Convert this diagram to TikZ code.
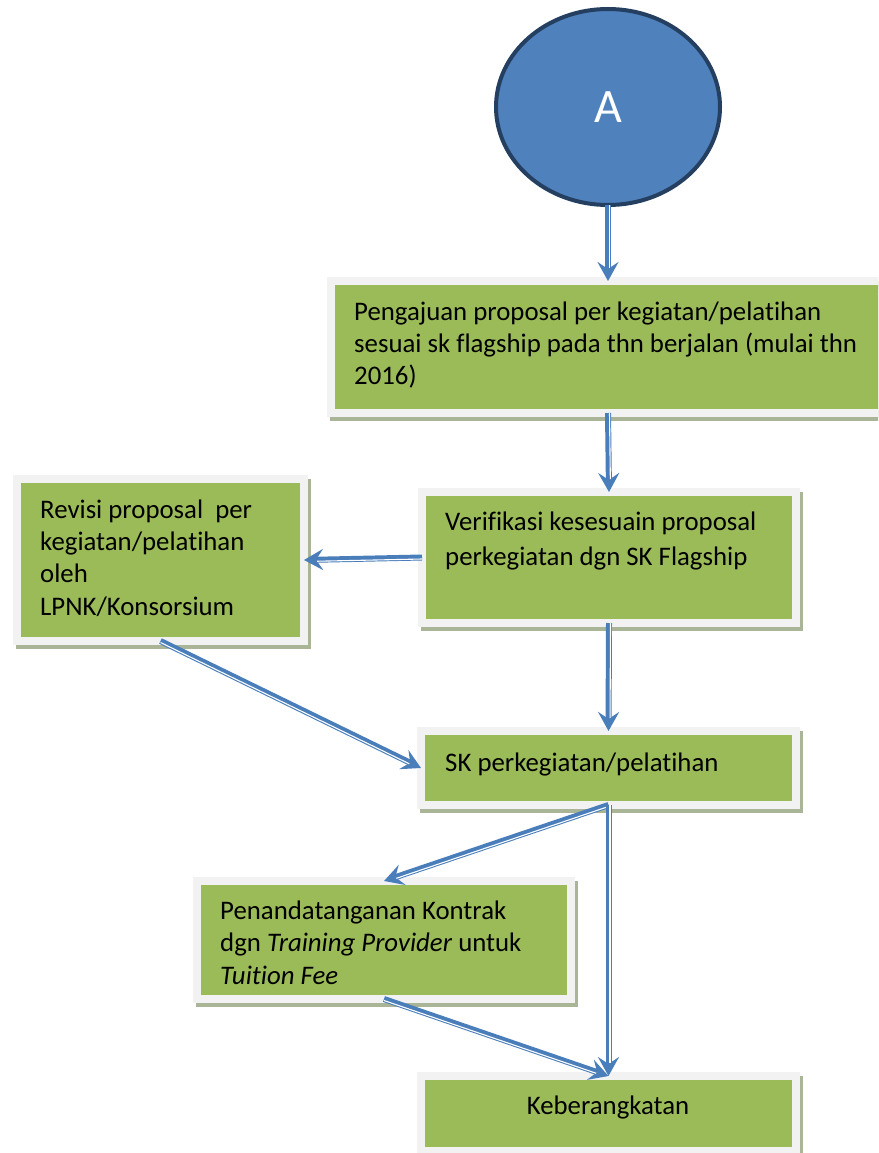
\documentclass[tikz,border=0pt]{standalone}
\usepackage{fontspec}
\setmainfont[Ligatures={NoCommon}]{Carlito}
\usetikzlibrary{arrows.meta,shapes.geometric}
\definecolor{boxgreen}{HTML}{9BBB59}
\definecolor{boxgray}{HTML}{F2F2F2}
\definecolor{shadowcol}{HTML}{AAB497}
\definecolor{ellblue}{HTML}{4F81BD}
\definecolor{ellborder}{HTML}{243F60}
\definecolor{arrowblue}{HTML}{4A7EBB}
\tikzset{
  box/.style={rectangle, draw=boxgray, line width=8pt, fill=boxgreen, inner sep=0pt, outer sep=0pt,
    preaction={draw=shadowcol, fill=shadowcol, line width=8pt, transform canvas={shift={(3pt,-4pt)}}}},
  txt/.style={anchor=north west, inner sep=0pt, align=left, text=black},
  arr/.style={draw=arrowblue, line width=6pt, -{Stealth[length=19pt,width=21pt,inset=7pt]}},
  arrin/.style={draw=white, line width=1.1pt, shorten >=13pt},
}
\newcommand\conn[3]{\draw[arr] (#1) -- (#2); \draw[arrin, transform canvas={shift={#3}}] (#1) -- (#2);}
\begin{document}
\begin{tikzpicture}[x=1pt,y=-1pt]
\useasboundingbox (0,0) rectangle (878,1153);
\fill[white] (0,0) rectangle (878,1153);
\clip (0,0) rectangle (878,1153);

% start node
\node[ellipse, draw=ellborder, line width=4pt, fill=ellblue, minimum width=224pt, minimum height=196pt,
      inner sep=0pt, outer sep=0pt, text=white, font=\fontsize{48}{52}\selectfont] (A) at (608,107) {\raisebox{-3pt}{A}};

% boxes
\node[box, minimum width=554pt, minimum height=132pt] (p1) at (608,347) {};
\node[box, minimum width=374pt, minimum height=131pt] (p2) at (609,557.5) {};
\node[box, minimum width=287pt, minimum height=162pt] (rev) at (160.5,560) {};
\node[box, minimum width=375pt, minimum height=74pt] (sk) at (608.5,768) {};
\node[box, minimum width=374pt, minimum height=118pt] (pen) at (384,940) {};
\node[box, minimum width=375pt, minimum height=75pt] (keb) at (608.5,1113.5) {};

% texts
\node[txt, font=\fontsize{26.8}{32}\selectfont] (t1) at (354,297.6)
  {\strut Pengajuan proposal per kegiatan/pelatihan\\sesuai sk flagship pada thn berjalan (mulai thn\\2016)};
\node[txt, font=\fontsize{26.8}{35}\selectfont] (t2) at (445,505.5)
  {\strut Verifikasi kesesuain proposal\\perkegiatan dgn SK Flagship};
\node[txt, font=\fontsize{26.8}{32.3}\selectfont] (t3) at (40,495.4)
  {\strut Revisi proposal\ \ per\\kegiatan/pelatihan\\oleh\\LPNK/Konsorsium};
\node[anchor=base west, inner sep=0pt, font=\fontsize{26.8}{30}\selectfont] (t4) at (445,771)
  {SK perkegiatan/pelatihan};
\node[txt, font=\fontsize{26.8}{32.5}\selectfont] (t5) at (220,896.25)
  {\strut Penandatanganan Kontrak\\dgn \textit{Training Provider} untuk\\\textit{Tuition Fee}};
\node[anchor=base, inner sep=0pt, font=\fontsize{26.8}{30}\selectfont] (t6) at (608,1114)
  {Keberangkatan};

% connectors
\conn{A.south}{p1.north}{(1.5pt,0pt)}
\conn{p1.south}{p2.north}{(1.5pt,0pt)}
\conn{p2.west}{rev.east}{(0pt,-1.5pt)}
\conn{rev.south}{sk.west}{(0pt,-1.5pt)}
\conn{p2.south}{sk.north}{(1.5pt,0pt)}
\conn{sk.south}{pen.north}{(0pt,-1.5pt)}
\conn{sk.south}{keb.north}{(1.5pt,0pt)}
\conn{pen.south}{keb.north}{(0pt,-1.5pt)}
\end{tikzpicture}
\end{document}
